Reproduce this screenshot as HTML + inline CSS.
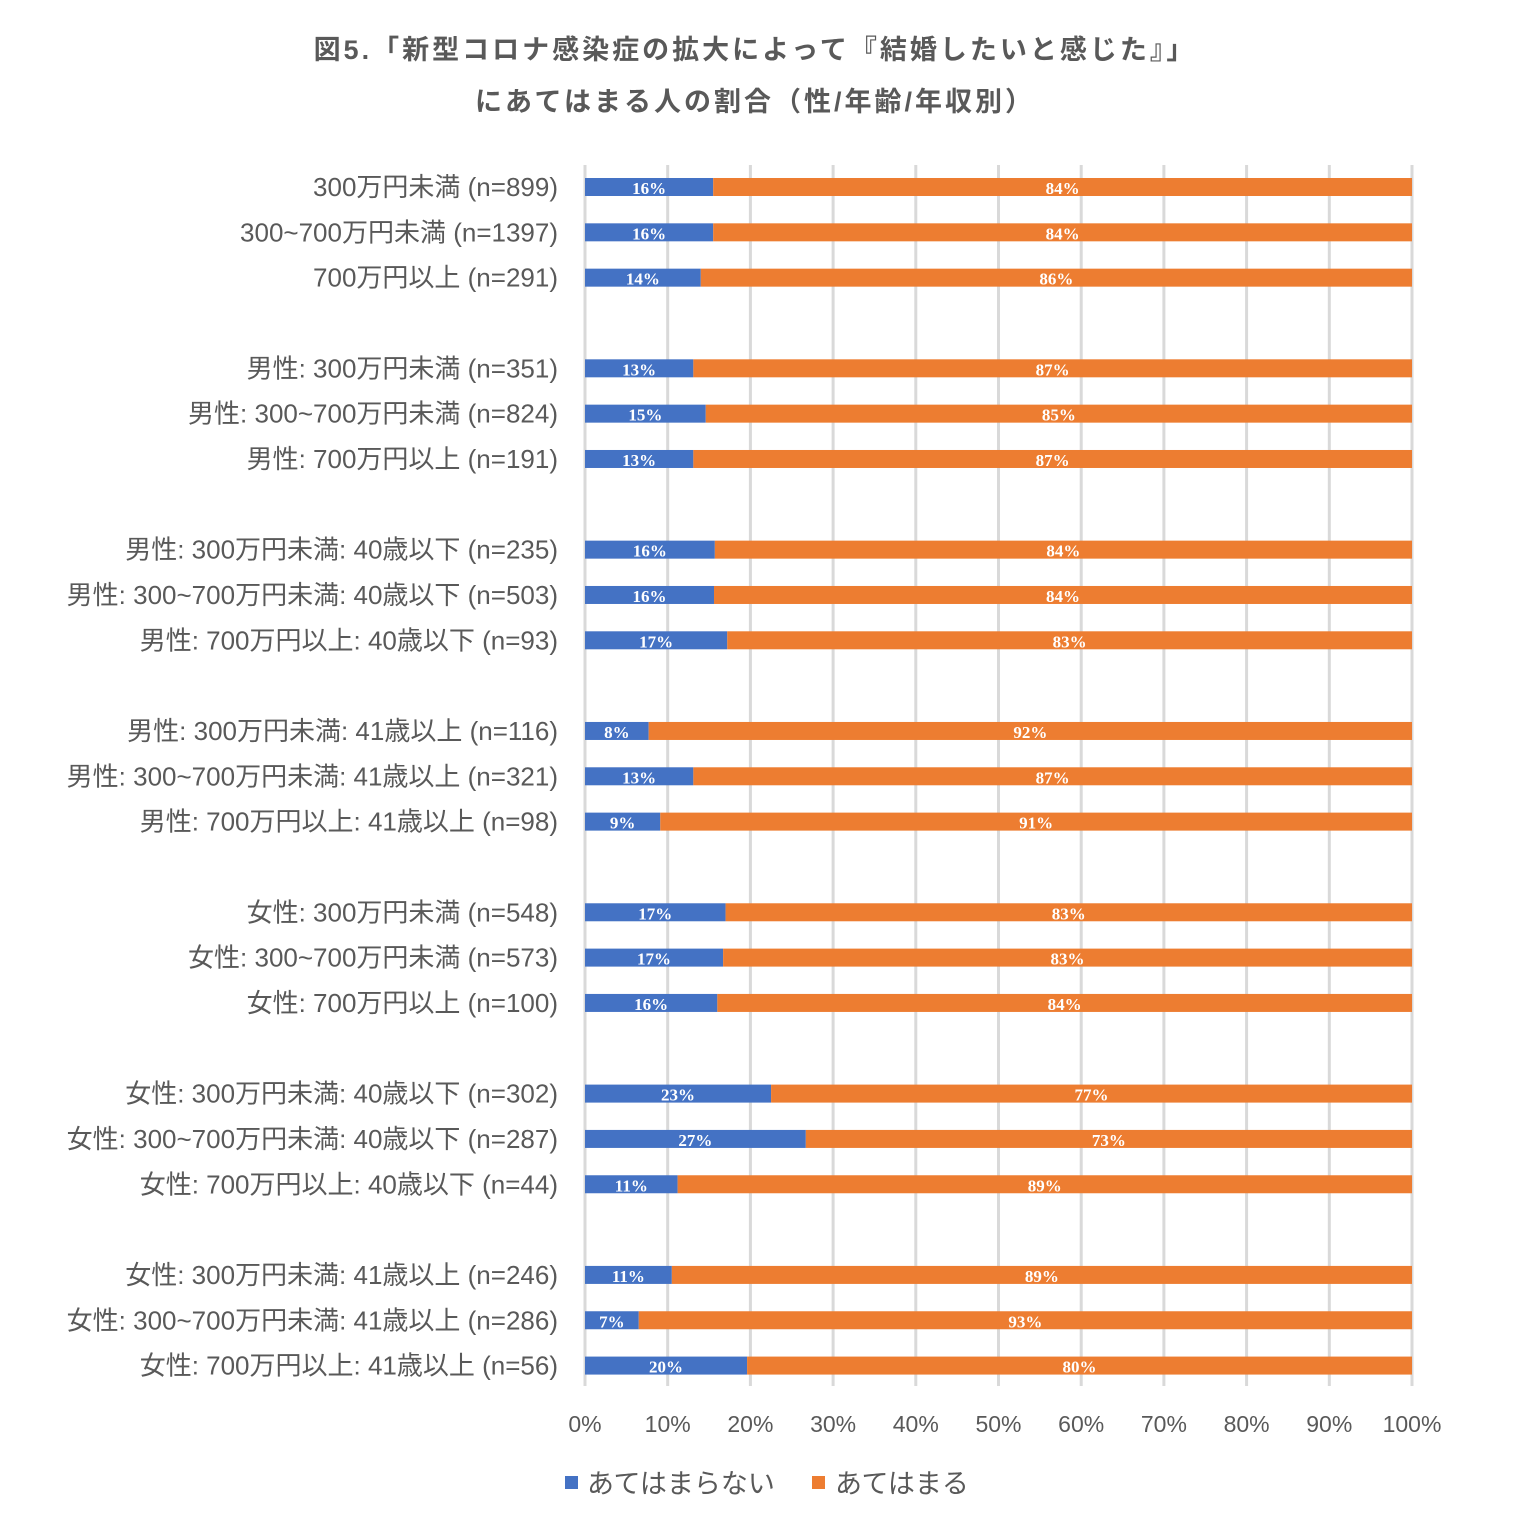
<!DOCTYPE html>
<html><head><meta charset="utf-8">
<style>
body{margin:0;background:#fff;width:1521px;height:1537px;overflow:hidden;font-family:"Liberation Sans","Noto Sans CJK JP",sans-serif;}
svg{display:block}
</style></head>
<body>
<svg id="chart" width="1521" height="1537" xmlns="http://www.w3.org/2000/svg">
<text x="755" y="59" text-anchor="middle" font-size="27" letter-spacing="3" font-weight="bold" fill="#595959" font-family="'Liberation Sans','Noto Sans CJK JP',sans-serif">図5.「新型コロナ感染症の拡大によって『結婚したいと感じた』」</text>
<text x="755" y="111" text-anchor="middle" font-size="27" letter-spacing="3" font-weight="bold" fill="#595959" font-family="'Liberation Sans','Noto Sans CJK JP',sans-serif">にあてはまる人の割合（性/年齢/年収別）</text>
<g id="grid"></g>
<g id="bars"></g>
<g id="cats"></g>
<g id="ticks"></g>
<g>
<rect x="565" y="1476" width="13" height="13" fill="#4472C4"/>
<text x="587" y="1493" font-size="27" fill="#595959" font-family="'Liberation Sans','Noto Sans CJK JP',sans-serif">あてはまらない</text>
<rect x="812" y="1476" width="13" height="13" fill="#ED7D31"/>
<text x="835" y="1493" font-size="27" fill="#595959" font-family="'Liberation Sans','Noto Sans CJK JP',sans-serif">あてはまる</text>
</g>
</svg>
<script>
const categories=["300万円未満 (n=899)","300~700万円未満 (n=1397)","700万円以上 (n=291)",
"男性: 300万円未満 (n=351)","男性: 300~700万円未満 (n=824)","男性: 700万円以上 (n=191)",
"男性: 300万円未満: 40歳以下 (n=235)","男性: 300~700万円未満: 40歳以下 (n=503)","男性: 700万円以上: 40歳以下 (n=93)",
"男性: 300万円未満: 41歳以上 (n=116)","男性: 300~700万円未満: 41歳以上 (n=321)","男性: 700万円以上: 41歳以上 (n=98)",
"女性: 300万円未満 (n=548)","女性: 300~700万円未満 (n=573)","女性: 700万円以上 (n=100)",
"女性: 300万円未満: 40歳以下 (n=302)","女性: 300~700万円未満: 40歳以下 (n=287)","女性: 700万円以上: 40歳以下 (n=44)",
"女性: 300万円未満: 41歳以上 (n=246)","女性: 300~700万円未満: 41歳以上 (n=286)","女性: 700万円以上: 41歳以上 (n=56)"];
const notApplicable=[15.5,15.5,14.0,13.1,14.6,13.1,15.7,15.6,17.2,7.7,13.1,9.1,17.0,16.7,16.0,22.5,26.7,11.2,10.5,6.5,19.6];
const notApplicableLabels=["16%","16%","14%","13%","15%","13%","16%","16%","17%","8%","13%","9%","17%","17%","16%","23%","27%","11%","11%","7%","20%"];
const applicableLabels=["84%","84%","86%","87%","85%","87%","84%","84%","83%","92%","87%","91%","83%","83%","84%","77%","73%","89%","89%","93%","80%"];
const tickValues=[0,10,20,30,40,50,60,70,80,90,100];
const tickLabels=["0%","10%","20%","30%","40%","50%","60%","70%","80%","90%","100%"];

const NS="http://www.w3.org/2000/svg";
const X0=585,X1=1412;
const xs=v=>X0+(X1-X0)*v/100;
const ys=i=>187+(Math.floor(i/3)*4+i%3)*45.33;
function mk(tag,attrs,parent){const e=document.createElementNS(NS,tag);for(const k in attrs)e.setAttribute(k,attrs[k]);parent.appendChild(e);return e;}
const grid=document.getElementById('grid'),bars=document.getElementById('bars'),cats=document.getElementById('cats'),ticks=document.getElementById('ticks');
const FF="'Liberation Sans','Noto Sans CJK JP',sans-serif";
tickValues.forEach((v,i)=>{
  const l=mk('line',{x1:xs(v),x2:xs(v),y1:165,y2:1386,stroke:'#d9d9d9','stroke-width':3},grid);
  
  
  const t=mk('text',{x:xs(v),y:1432,'text-anchor':'middle','font-size':23,fill:'#595959','font-family':FF},ticks);
  t.textContent=tickLabels[i];
  
  
});
categories.forEach((c,i)=>{
  const y=ys(i);
  const t=mk('text',{x:558,y:y+9,'text-anchor':'end','font-size':26,fill:'#595959','font-family':FF},cats);
  t.textContent=c;
  
  
  const v=notApplicable[i];
  const b=mk('rect',{x:xs(0),y:y-9,width:xs(v)-xs(0),height:18,fill:'#4472C4'},bars);
  
  
  const o=mk('rect',{x:xs(v),y:y-9,width:xs(100)-xs(v),height:18,fill:'#ED7D31'},bars);
  
  
  const l1=mk('text',{x:(xs(0)+xs(v))/2,y:y+7,'text-anchor':'middle','font-size':17,'font-weight':'bold',fill:'#fff','font-family':"'Liberation Serif',serif"},bars);
  l1.textContent=notApplicableLabels[i];
  
  
  const l2=mk('text',{x:(xs(v)+xs(100))/2,y:y+7,'text-anchor':'middle','font-size':17,'font-weight':'bold',fill:'#fff','font-family':"'Liberation Serif',serif"},bars);
  l2.textContent=applicableLabels[i];
  
  
});
</script>
</body></html>
